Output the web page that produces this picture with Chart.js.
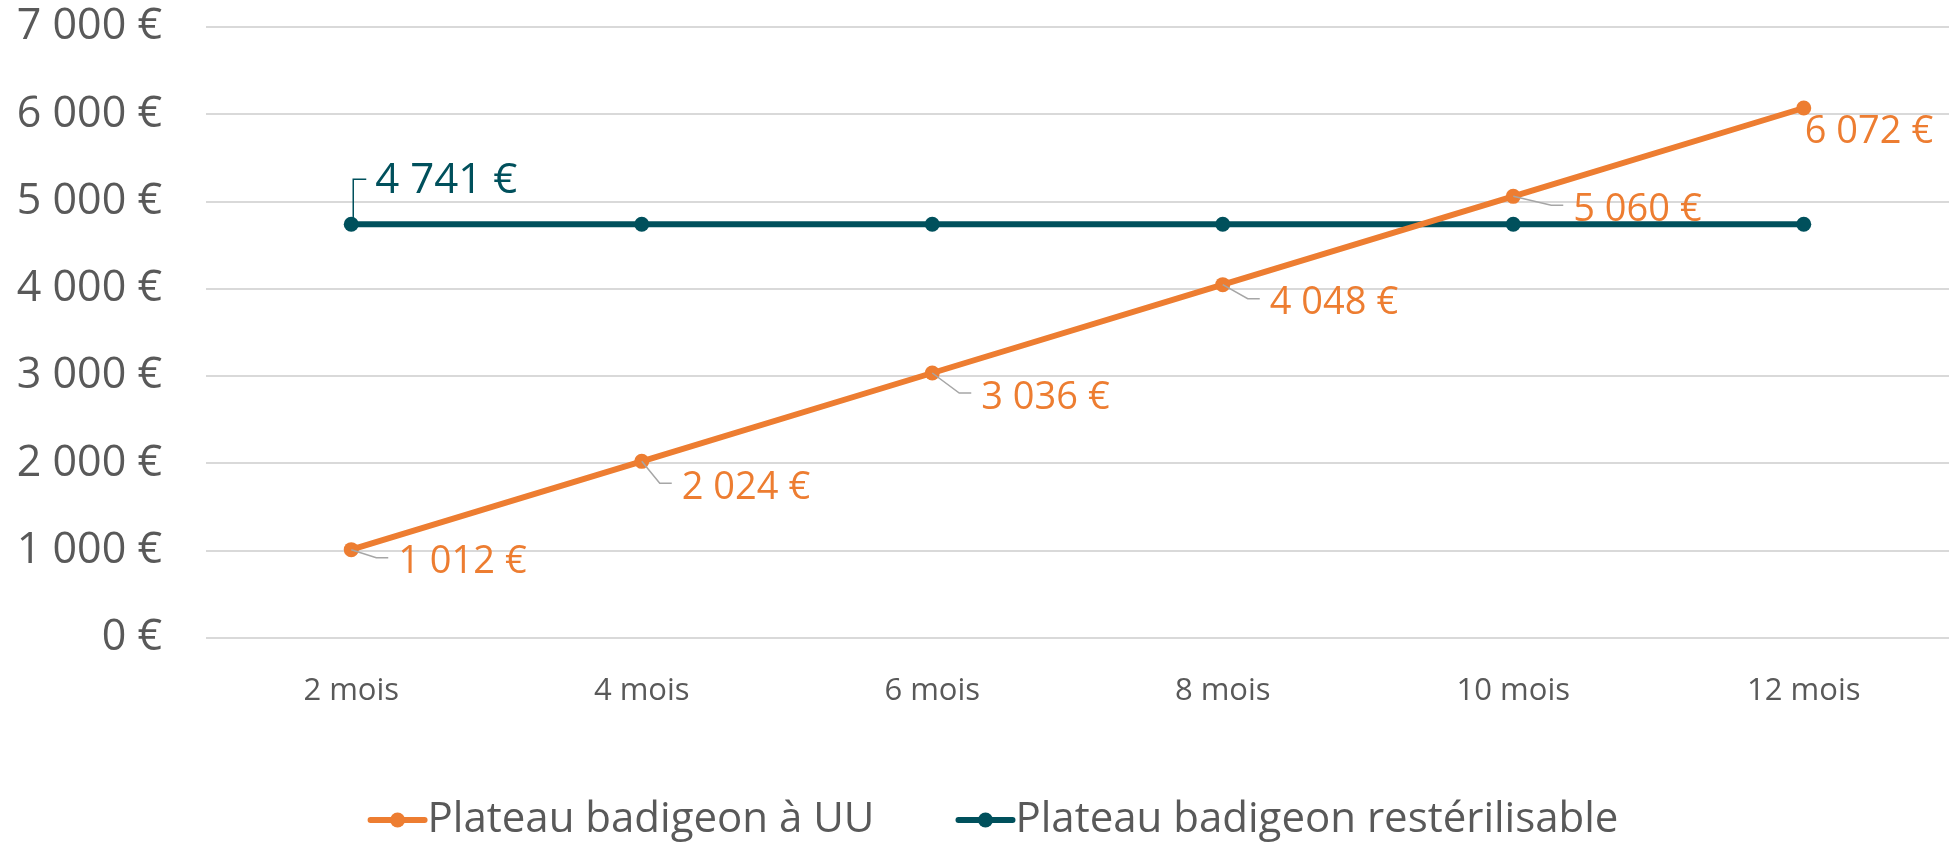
<!DOCTYPE html>
<html>
<head>
<meta charset="utf-8">
<script src="https://cdn.jsdelivr.net/npm/chart.js@4"></script>
<style>
body { margin: 0; background: #fff; }
#wrap { width: 1949px; height: 843px; }
#wrap canvas { display: block; }
</style>
</head>
<body>
<div id="wrap"><canvas id="chart" width="1949" height="843"></canvas></div>
<script>
// data
const months = ['2 mois', '4 mois', '6 mois', '8 mois', '10 mois', '12 mois'];
const uuValues = [1012, 2024, 3036, 4048, 5060, 6072];
const resterValues = [4741, 4741, 4741, 4741, 4741, 4741];
const seriesNames = ['Plateau badigeon à UU', 'Plateau badigeon restérilisable'];
const yTicks = [0, 1000, 2000, 3000, 4000, 5000, 6000, 7000];

const ORANGE = '#ED7D31';
const TEAL = '#00505C';
const TEXT = '#595959';
const FONT = '"Open Sans", "Noto Sans", sans-serif';

function euro(v) {
    return String(v).replace(/\B(?=(\d{3})+(?!\d))/g, ' ') + ' €';
}

// labels next to points, with the little grey leader lines
const pointLabels = {
    id: 'pointLabels',
    afterDatasetsDraw(chart, args, opts) {
        const { ctx } = chart;
        ctx.save();
        ctx.textAlign = 'left';
        ctx.textBaseline = 'middle';
        opts.sets.forEach(set => {
            const meta = chart.getDatasetMeta(set.dataset);
            const ds = chart.data.datasets[set.dataset];
            set.points.forEach(p => {
                const el = meta.data[p.index];
                if (!el) return;
                const lx = el.x + p.dx, ly = el.y + p.dy;
                if (p.leader === 'diag') {
                    ctx.strokeStyle = '#A6A6A6';
                    ctx.lineWidth = 1.5;
                    ctx.beginPath();
                    ctx.moveTo(el.x, el.y);
                    ctx.lineTo(lx - 22, ly - 5);
                    ctx.lineTo(lx - 10, ly - 5);
                    ctx.stroke();
                } else if (p.leader === 'up') {
                    ctx.strokeStyle = set.color;
                    ctx.lineWidth = 1.5;
                    ctx.beginPath();
                    ctx.moveTo(el.x + 2, el.y);
                    ctx.lineTo(el.x + 2, ly - 2);
                    ctx.lineTo(lx - 9, ly - 2);
                    ctx.stroke();
                }
                ctx.fillStyle = set.color;
                ctx.font = `${set.size}px ${FONT}`;
                ctx.fillText(euro(ds.data[p.index]), lx, ly);
            });
        });
        ctx.restore();
    }
};

// legend drawn at the bottom: line + dot marker, then the name
const bottomLegend = {
    id: 'bottomLegend',
    afterDraw(chart, args, opts) {
        const { ctx } = chart;
        ctx.save();
        ctx.font = `${opts.size}px ${FONT}`;
        ctx.textBaseline = 'middle';
        ctx.textAlign = 'left';
        const items = chart.data.datasets.map(ds => ({ text: ds.label, color: ds.borderColor }));
        const widths = items.map(it => opts.marker + ctx.measureText(it.text).width);
        const total = widths.reduce((a, b) => a + b, 0) + opts.gap * (items.length - 1);
        let x = opts.center - total / 2;
        const y = opts.y;
        items.forEach((it, i) => {
            ctx.strokeStyle = it.color;
            ctx.lineWidth = 6;
            ctx.lineCap = 'round';
            ctx.beginPath();
            ctx.moveTo(x + 3, y);
            ctx.lineTo(x + opts.marker - 3, y);
            ctx.stroke();
            ctx.fillStyle = it.color;
            ctx.beginPath();
            ctx.arc(x + opts.marker / 2, y, 7.5, 0, Math.PI * 2);
            ctx.fill();
            ctx.fillStyle = TEXT;
            ctx.fillText(it.text, x + opts.marker, y);
            x += widths[i] + opts.gap;
        });
        ctx.restore();
    }
};

Chart.register(pointLabels, bottomLegend);

new Chart(document.getElementById('chart'), {
    type: 'line',
    data: {
        labels: months,
        datasets: [
            {
                label: seriesNames[0],
                data: uuValues,
                borderColor: ORANGE,
                backgroundColor: ORANGE,
                borderWidth: 6,
                pointRadius: 7.5,
                pointHoverRadius: 7.5,
                pointBorderWidth: 0,
                tension: 0
            },
            {
                label: seriesNames[1],
                data: resterValues,
                borderColor: TEAL,
                backgroundColor: TEAL,
                borderWidth: 6,
                pointRadius: 7.5,
                pointHoverRadius: 7.5,
                pointBorderWidth: 0,
                tension: 0
            }
        ]
    },
    options: {
        responsive: false,
        animation: false,
        layout: { autoPadding: false, padding: { top: 27, right: -3, left: 0, bottom: 105 } },
        scales: {
            x: {
                offset: true,
                grid: { display: false },
                border: { display: false },
                ticks: { color: TEXT, font: { size: 31, family: FONT }, padding: 27 },
                afterFit: (scale) => {
                    scale.height = 100;
                    scale.paddingLeft = 0;
                    scale.paddingRight = 0;
                }
            },
            y: {
                min: 0,
                max: 7000,
                afterBuildTicks: (scale) => { scale.ticks = yTicks.map(v => ({ value: v })); },
                grid: { color: '#D9D9D9', lineWidth: 2, drawTicks: false },
                border: { display: false },
                ticks: { color: TEXT, font: { size: 43, family: FONT }, padding: 44, callback: (v) => euro(v) },
                afterFit: (scale) => {
                    scale.width = 206;
                    scale.paddingTop = 0;
                    scale.paddingBottom = 0;
                }
            }
        },
        plugins: {
            legend: { display: false },
            tooltip: { enabled: false },
            pointLabels: {
                sets: [
                    {
                        dataset: 0, color: ORANGE, size: 38,
                        points: [
                            { index: 0, dx: 47, dy: 13, leader: 'diag' },
                            { index: 1, dx: 40, dy: 27, leader: 'diag' },
                            { index: 2, dx: 49, dy: 25, leader: 'diag' },
                            { index: 3, dx: 47, dy: 19, leader: 'diag' },
                            { index: 4, dx: 60, dy: 14, leader: 'diag' },
                            { index: 5, dx: 1, dy: 24, leader: 'none' }
                        ]
                    },
                    {
                        dataset: 1, color: TEAL, size: 42,
                        points: [ { index: 0, dx: 24, dy: -43, leader: 'up' } ]
                    }
                ]
            },
            bottomLegend: { size: 42, marker: 60, gap: 81, center: 993, y: 820 }
        }
    }
});
</script>
</body>
</html>
